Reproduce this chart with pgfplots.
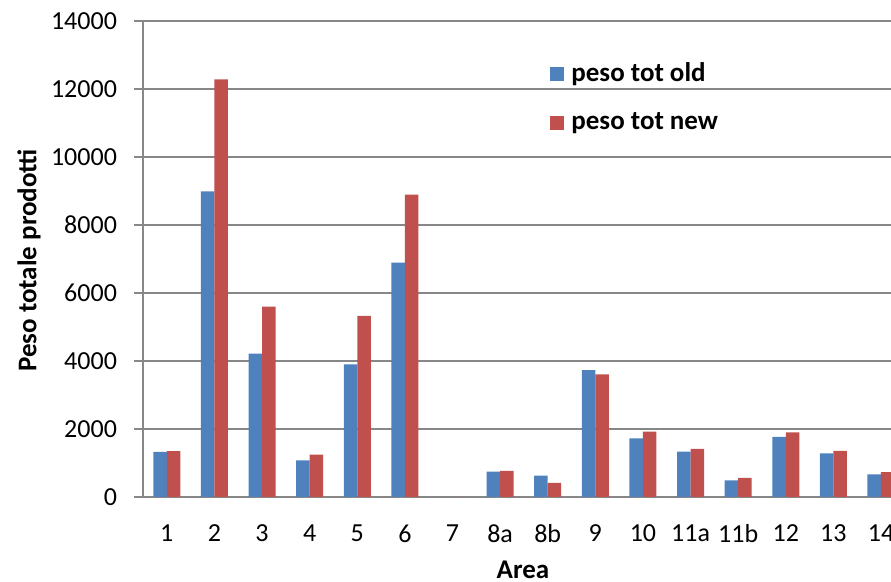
\documentclass[border=0pt]{standalone}
\usepackage{pgfplots}
\pgfplotsset{compat=1.18}
\usepackage{fontspec}
\setmainfont{Carlito}
\definecolor{oldc}{HTML}{4F81BD}
\definecolor{newc}{HTML}{C0504D}
\definecolor{gridc}{HTML}{878787}
\begin{document}
\begin{tikzpicture}
\begin{axis}[
  scale only axis,
  width=374pt, height=238pt,
  at={(0,0)}, anchor=south west,
  xmin=-0.5, xmax=15.21,
  ymin=0, ymax=14000,
  scaled y ticks=false,
  ytick={0,2000,4000,6000,8000,10000,12000,14000},
  yticklabels={0,2000,4000,6000,8000,10000,12000,14000},
  xtick={0,...,15},
  xticklabels={1,2,3,4,5,6,7,8a,8b,9,10,11a,11b,12,13,14},
  extra x ticks={-0.5,0.5,...,15.5},
  extra x tick labels={},
  extra x tick style={major tick length=4.5pt, tick style={gridc, line width=0.9pt}, grid=none},
  major x tick style={draw=none},
  axis x line*=bottom, axis y line*=left,
  axis line style={gridc, line width=0.9pt, -},
  tick align=outside,
  major tick length=4.5pt,
  ytick style={gridc, line width=0.9pt},
  ymajorgrids,
  grid style={gridc, line width=0.9pt},
  tick label style={font=\fontsize{13}{15}\selectfont, black},
  xticklabel style={yshift=-5.75pt},
  yticklabel style={xshift=-5pt},
  label style={font=\bfseries\fontsize{13.5}{15}\selectfont},
  xlabel={Area},
  ylabel={Peso totale prodotti},
  xlabel style={at={(axis description cs:0.508,0)}, anchor=center, yshift=-36.5pt},
  ylabel style={at={(axis description cs:0,0.497)}, anchor=center, yshift=57pt},
  ybar=0pt,
  bar width=6.75pt,
  legend style={draw=none, fill=none, at={(203.5pt,199.5pt)}, anchor=west,
    font=\bfseries\fontsize{13.5}{15}\selectfont, row sep=10pt, inner sep=0pt,
    /tikz/every odd column/.append style={column sep=1.5pt}},
  legend cell align=left,
  legend image code/.code={\fill[#1] (0pt,-3.5pt) rectangle (7pt,3.5pt);},
]
\addplot[fill=oldc, draw=none] coordinates {
(0,1330) (1,8990) (2,4215) (3,1078) (4,3902) (5,6890) (6,0) (7,745) (8,627)
(9,3735) (10,1725) (11,1333) (12,490) (13,1765) (14,1284) (15,667)};
\addplot[fill=newc, draw=none] coordinates {
(0,1350) (1,12280) (2,5600) (3,1245) (4,5324) (5,8890) (6,0) (7,765) (8,412)
(9,3608) (10,1922) (11,1412) (12,559) (13,1902) (14,1353) (15,735)};
\legend{peso tot old, peso tot new}
\end{axis}
\pgfresetboundingbox
\useasboundingbox (-71.5pt,-42.5pt) rectangle (374pt,248.5pt);
\end{tikzpicture}
\end{document}
